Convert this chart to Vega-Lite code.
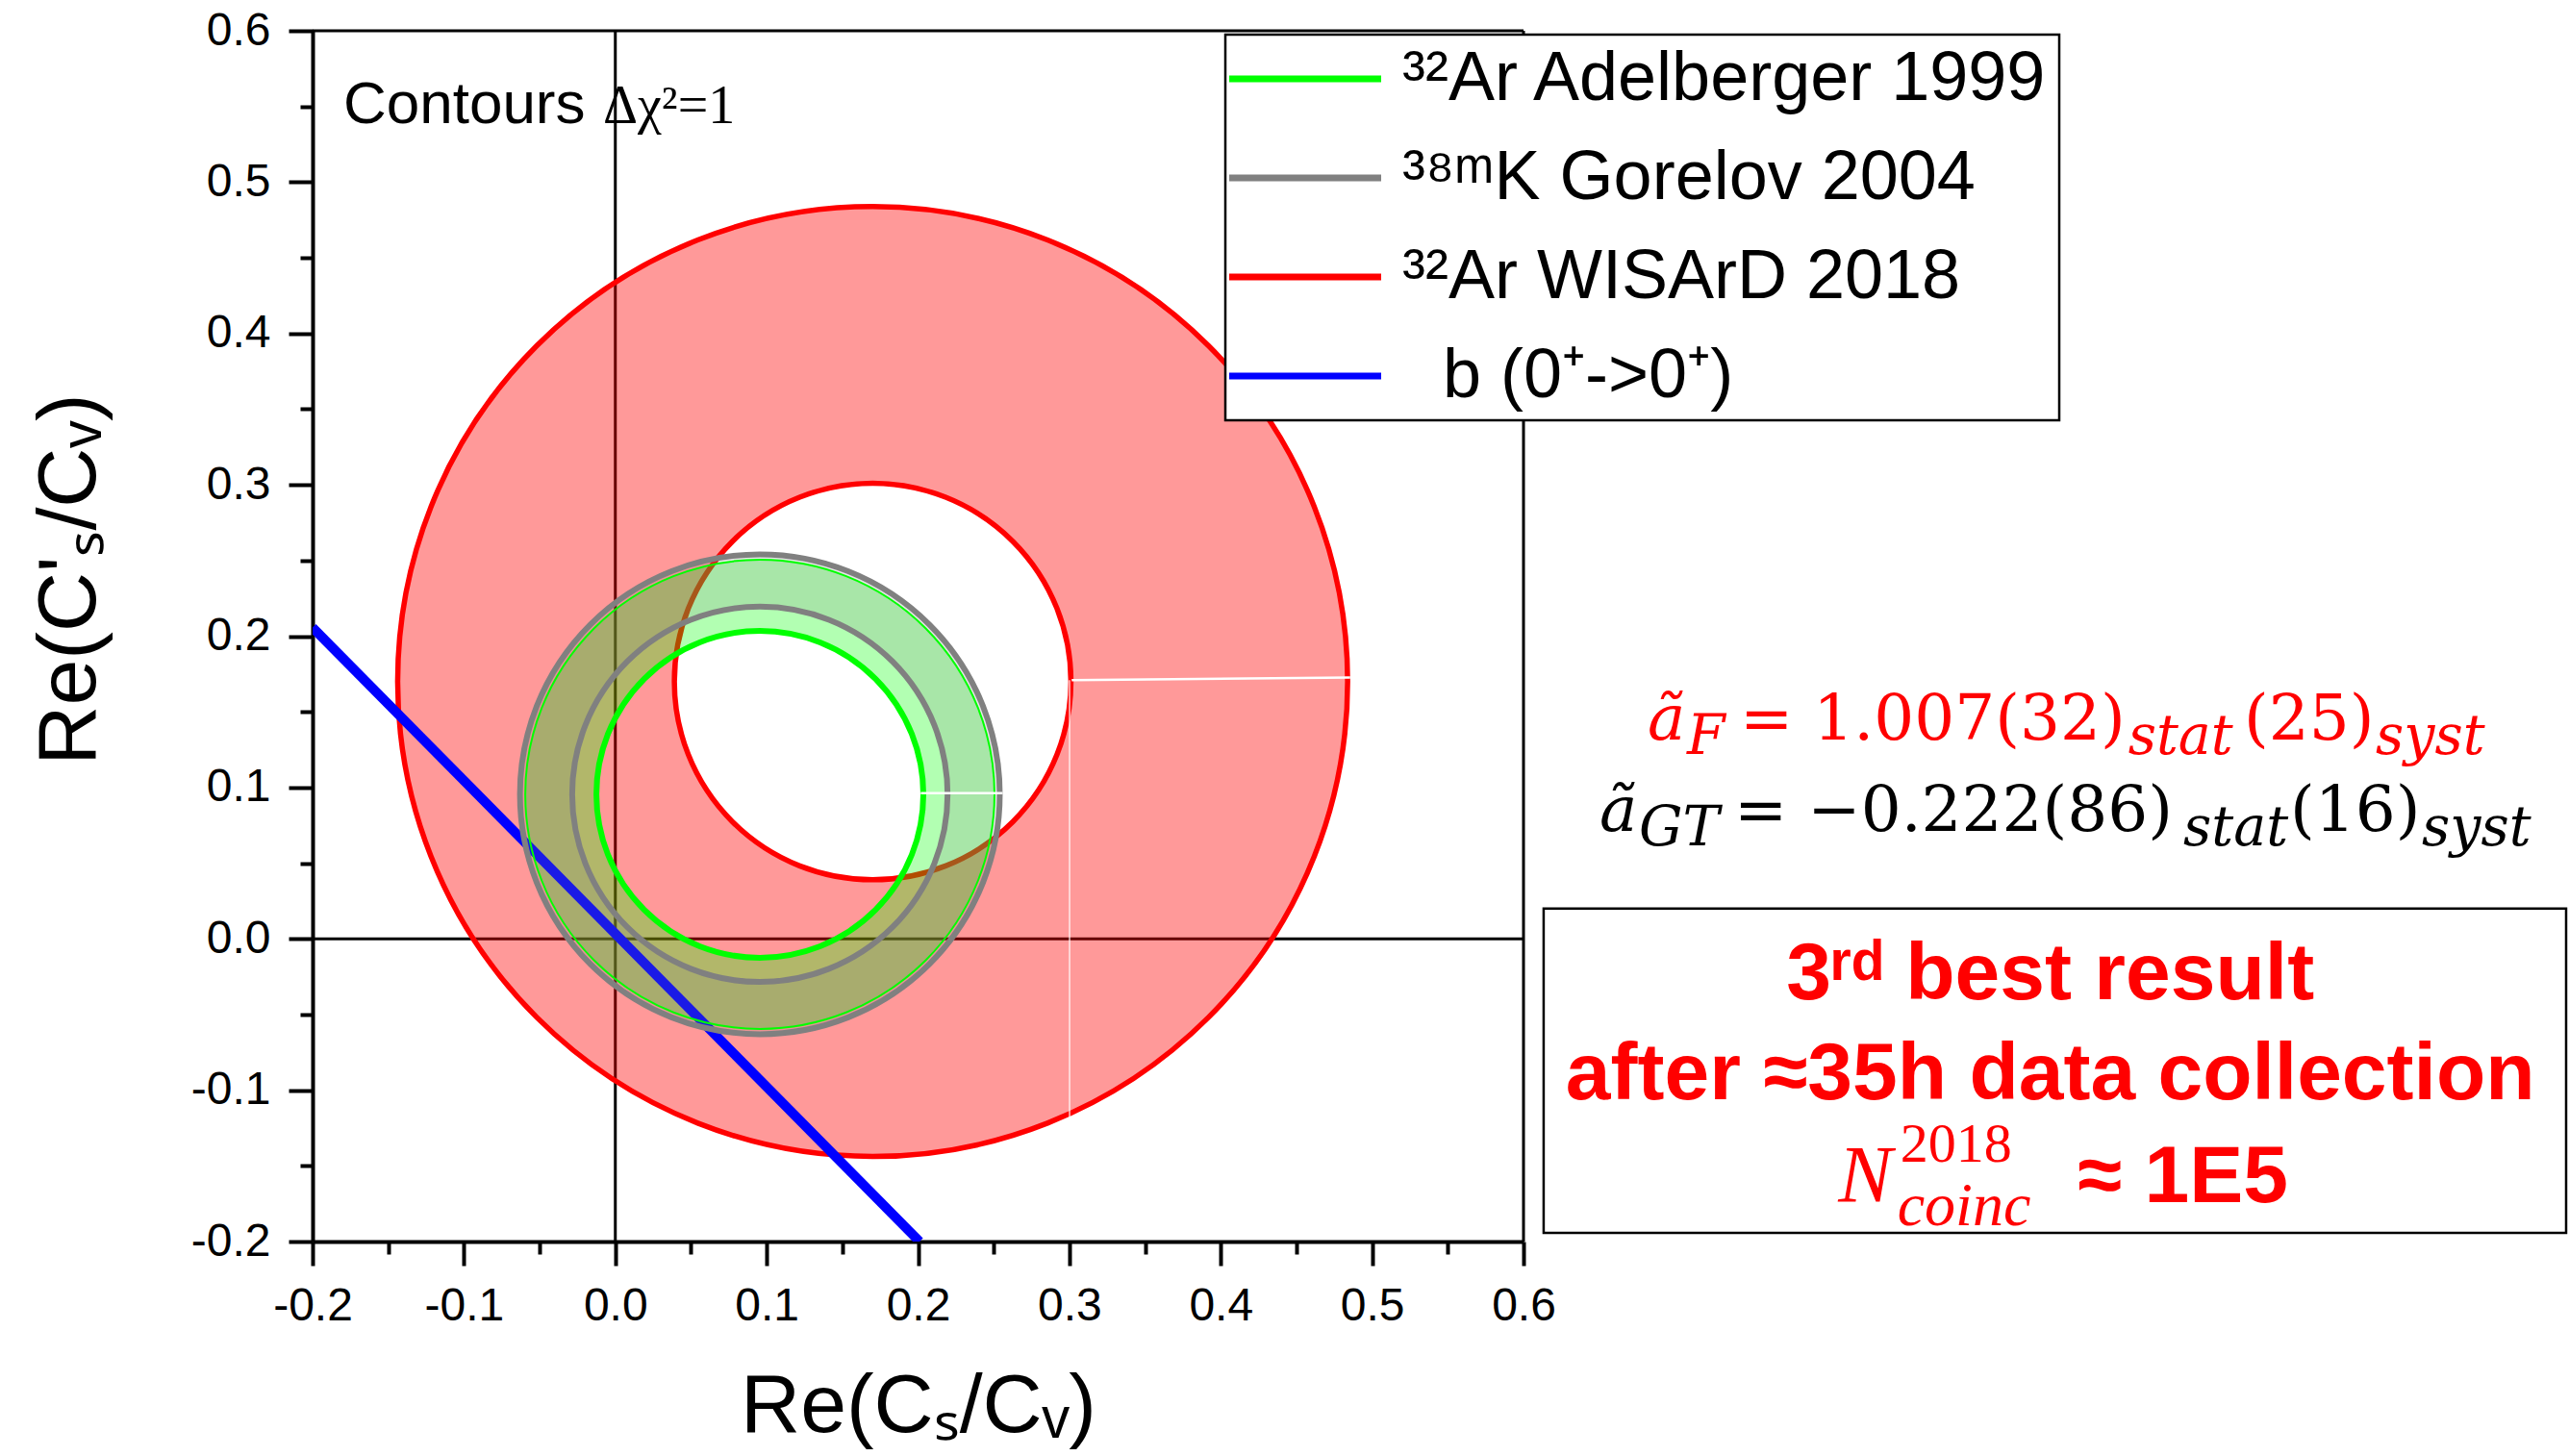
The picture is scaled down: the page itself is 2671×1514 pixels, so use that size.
{
  "$schema": "https://vega.github.io/schema/vega-lite/v6.json",
  "width": 1259,
  "height": 1259,
  "autosize": {"type": "none"},
  "padding": {"left": 325, "top": 32, "right": 1087, "bottom": 223},
  "background": "white",
  "config": {
    "view": {"stroke": null},
    "axis": {
      "domainColor": "black", "domainWidth": 4,
      "tickColor": "black", "tickWidth": 4,
      "labelFont": "Liberation Sans", "labelFontSize": 48, "labelColor": "black",
      "titleFont": "Liberation Sans", "titleFontSize": 86, "titleFontWeight": "normal", "titleColor": "black",
      "grid": false
    },
    "legend": {"strokeWidth": 2.5}
  },
  "encoding": {
    "x": {
      "field": "x", "type": "quantitative",
      "scale": {"domain": [-0.2, 0.6], "nice": false, "zero": false},
      "axis": {
        "title": "Re(Cₛ/Cᵥ)",
        "values": [-0.2, -0.15, -0.1, -0.05, 0, 0.05, 0.1, 0.15, 0.2, 0.25, 0.3, 0.35, 0.4, 0.45, 0.5, 0.55, 0.6],
        "labelExpr": "round(datum.value*20) % 2 == 0 ? (datum.value < -0.001 ? '-' : '') + format(abs(datum.value), '.1f') : ''",
        "tickSize": {"condition": {"test": "round(datum.value*20) % 2 == 0", "value": 25}, "value": 13},
        "labelPadding": 18, "titlePadding": 38, "labelFlush": false, "labelOverlap": false
      }
    },
    "y": {
      "field": "y", "type": "quantitative",
      "scale": {"domain": [-0.2, 0.6], "nice": false, "zero": false},
      "axis": {
        "title": "Re(C'ₛ/Cᵥ)",
        "values": [-0.2, -0.15, -0.1, -0.05, 0, 0.05, 0.1, 0.15, 0.2, 0.25, 0.3, 0.35, 0.4, 0.45, 0.5, 0.55, 0.6],
        "labelExpr": "round(datum.value*20) % 2 == 0 ? (datum.value < -0.001 ? '-' : '') + format(abs(datum.value), '.1f') : ''",
        "tickSize": {"condition": {"test": "round(datum.value*20) % 2 == 0", "value": 25}, "value": 13},
        "labelPadding": 19, "titlePadding": 82, "titleY": 570, "labelFlush": false, "labelOverlap": false
      }
    }
  },
  "layer": [
    {
      "data": {"values": [
        {"x": 0, "y": -0.2, "x2": 0, "y2": 0.6},
        {"x": -0.2, "y": 0, "x2": 0.6, "y2": 0},
        {"x": -0.2, "y": 0.6, "x2": 0.6, "y2": 0.6},
        {"x": 0.6, "y": -0.2, "x2": 0.6, "y2": 0.6}
      ]},
      "mark": {"type": "rule", "color": "black", "strokeWidth": 3},
      "encoding": {"x2": {"field": "x2"}, "y2": {"field": "y2"}}
    },
    {
      "data": {"values": [{"series": "³²Ar WISArD 2018", "x": 0.170, "y": 0.170, "r_out": 0.3138, "r_in": 0.131}]},
      "mark": {"type": "arc", "theta": 0, "theta2": 6.2832, "fill": "#FF0000", "fillOpacity": 0.4, "strokeWidth": 5.5},
      "encoding": {
        "radius": {"field": "r_out", "type": "quantitative", "scale": {"type": "linear", "domain": [0, 0.4], "range": [0, 629.5], "zero": true}},
        "radius2": {"field": "r_in"},
        "stroke": {
          "field": "series", "type": "nominal",
          "scale": {"domain": ["³²Ar Adelberger 1999", "³⁸ᵐK Gorelov 2004", "³²Ar WISArD 2018", "\u200b\u2002\u200ab (0⁺->0⁺)"], "range": ["#00FF00", "#808080", "#FF0000", "#0000FF"]},
          "legend": {
            "orient": "none", "legendX": 949, "legendY": 4, "title": null,
            "symbolType": "M-1.292,0H3.569", "symbolSize": 4225, "symbolStrokeWidth": 7,
            "labelFont": "Liberation Sans", "labelFontSize": 72, "labelColor": "black", "labelLimit": 2000,
            "labelOffset": 102, "rowPadding": 31, "padding": 10,
            "strokeColor": "black", "fillColor": "white",
            "encode": {
              "symbols": {"update": {"strokeWidth": {"value": 7}, "fillOpacity": {"value": 0}}}
            }
          }
        }
      }
    },
    {
      "data": {"values": [{"x": 0.0955, "y": 0.0955, "r_out": 0.155, "r_in": 0.108}]},
      "mark": {"type": "arc", "theta": 0, "theta2": 6.2832, "fill": "#00FF00", "fillOpacity": 0.3, "strokeWidth": 0},
      "encoding": {"radius": {"field": "r_out", "type": "quantitative"}, "radius2": {"field": "r_in"}}
    },
    {
      "data": {"values": [
        {"series": "\u200b\u2002\u200ab (0⁺->0⁺)", "x": -0.2, "y": 0.2057},
        {"series": "\u200b\u2002\u200ab (0⁺->0⁺)", "x": 0.201, "y": -0.2}
      ]},
      "mark": {"type": "line", "strokeWidth": 10, "clip": true},
      "encoding": {"stroke": {"field": "series", "type": "nominal"}}
    },
    {
      "data": {"values": [{"series": "³⁸ᵐK Gorelov 2004", "x": 0.0955, "y": 0.0955, "r_out": 0.1585, "r_in": 0.124}]},
      "mark": {"type": "arc", "theta": 0, "theta2": 6.2832, "fill": "#808080", "fillOpacity": 0.2, "strokeWidth": 6},
      "encoding": {"radius": {"field": "r_out", "type": "quantitative"}, "radius2": {"field": "r_in"}, "stroke": {"field": "series", "type": "nominal"}}
    },
    {
      "data": {"values": [{"x": 0.0955, "y": 0.0955, "r_out": 0.155}]},
      "mark": {"type": "arc", "theta": 0, "theta2": 6.2832, "filled": false, "stroke": "#00FF00", "strokeWidth": 2},
      "encoding": {"radius": {"field": "r_out", "type": "quantitative"}}
    },
    {
      "data": {"values": [{"series": "³²Ar Adelberger 1999", "x": 0.0955, "y": 0.0955, "r_out": 0.108}]},
      "mark": {"type": "arc", "theta": 0, "theta2": 6.2832, "filled": false, "strokeWidth": 6},
      "encoding": {"radius": {"field": "r_out", "type": "quantitative"}, "stroke": {"field": "series", "type": "nominal"}}
    },
    {
      "data": {"values": [
        {"x": 0.3015, "y": 0.171, "x2": 0.4855, "y2": 0.1727},
        {"x": 0.2018, "y": 0.0963, "x2": 0.2559, "y2": 0.0963}
      ]},
      "mark": {"type": "rule", "color": "white", "strokeWidth": 2.5},
      "encoding": {"x2": {"field": "x2"}, "y2": {"field": "y2"}}
    },
    {
      "data": {"values": [{"x": 0.3001, "y": 0.171, "x2": 0.3001, "y2": -0.145}]},
      "mark": {"type": "rule", "color": "white", "strokeWidth": 1.5, "opacity": 0.8},
      "encoding": {"x2": {"field": "x2"}, "y2": {"field": "y2"}}
    },
    {
      "data": {"values": [{"x": -0.1797, "y": 0.539, "t": "Contours"}]},
      "mark": {"type": "text", "font": "Liberation Sans", "fontSize": 62, "align": "left", "baseline": "alphabetic", "color": "black"},
      "encoding": {"text": {"field": "t"}}
    },
    {
      "data": {"values": [{"x": -0.0081, "y": 0.539, "t": "Δχ²=1"}]},
      "mark": {"type": "text", "font": "Liberation Serif", "fontSize": 56, "align": "left", "baseline": "alphabetic", "color": "black"},
      "encoding": {"text": {"field": "t"}}
    },
    {
      "data": {"values": [
        {"t": "ã", "x": 0.682, "y": 0.132, "g": "r"},
        {"t": "ã", "x": 0.6502, "y": 0.0715, "g": "k"}
      ]},
      "mark": {"type": "text", "font": "DejaVu Serif", "fontStyle": "italic", "fontSize": 66, "align": "left", "baseline": "alphabetic"},
      "encoding": {"text": {"field": "t"}, "color": {"field": "g", "type": "nominal", "scale": {"domain": ["r", "k"], "range": ["#FF0000", "#000000"]}, "legend": null}}
    },
    {
      "data": {"values": [
        {"t": "= 1.007(32)", "x": 0.7430, "y": 0.132, "g": "r"},
        {"t": "(25)", "x": 1.0759, "y": 0.132, "g": "r"},
        {"t": "= −0.222(86)", "x": 0.7392, "y": 0.0715, "g": "k"},
        {"t": "(16)", "x": 1.1064, "y": 0.0715, "g": "k"}
      ]},
      "mark": {"type": "text", "font": "DejaVu Serif", "fontSize": 66, "align": "left", "baseline": "alphabetic"},
      "encoding": {"text": {"field": "t"}, "color": {"field": "g", "type": "nominal", "legend": null}}
    },
    {
      "data": {"values": [
        {"t": "F", "x": 0.708, "y": 0.1224, "g": "r"},
        {"t": "stat", "x": 0.9995, "y": 0.1224, "g": "r"},
        {"t": "syst", "x": 1.163, "y": 0.1224, "g": "r"},
        {"t": "GT", "x": 0.6763, "y": 0.062, "g": "k"},
        {"t": "stat", "x": 1.0359, "y": 0.062, "g": "k"},
        {"t": "syst", "x": 1.1935, "y": 0.062, "g": "k"}
      ]},
      "mark": {"type": "text", "font": "DejaVu Serif", "fontStyle": "italic", "fontSize": 57, "align": "left", "baseline": "alphabetic"},
      "encoding": {"text": {"field": "t"}, "color": {"field": "g", "type": "nominal", "legend": null}}
    },
    {
      "data": {"values": [{"x": 0.6133, "x2": 1.2888, "y": 0.0200, "y2": -0.1943}]},
      "mark": {"type": "rect", "filled": false, "stroke": "black", "strokeWidth": 2.5},
      "encoding": {"x2": {"field": "x2"}, "y2": {"field": "y2"}}
    },
    {
      "data": {"values": [
        {"t": "3ʳᵈ best result", "x": 0.948, "y": -0.0398},
        {"t": "after ≈35h data collection", "x": 0.948, "y": -0.1059}
      ]},
      "mark": {"type": "text", "font": "Liberation Sans", "fontWeight": "bold", "fontSize": 84, "align": "center", "baseline": "alphabetic", "color": "#FF0000"},
      "encoding": {"text": {"field": "t"}}
    },
    {
      "data": {"values": [{"t": "N", "x": 0.808, "y": -0.174}]},
      "mark": {"type": "text", "font": "Liberation Serif", "fontStyle": "italic", "fontSize": 84, "align": "left", "baseline": "alphabetic", "color": "#FF0000"},
      "encoding": {"text": {"field": "t"}}
    },
    {
      "data": {"values": [{"t": "2018", "x": 0.849, "y": -0.1472}]},
      "mark": {"type": "text", "font": "Liberation Serif", "fontSize": 58, "align": "left", "baseline": "alphabetic", "color": "#FF0000"},
      "encoding": {"text": {"field": "t"}}
    },
    {
      "data": {"values": [{"t": "coinc", "x": 0.847, "y": -0.1892}]},
      "mark": {"type": "text", "font": "Liberation Serif", "fontStyle": "italic", "fontSize": 64, "align": "left", "baseline": "alphabetic", "color": "#FF0000"},
      "encoding": {"text": {"field": "t"}}
    },
    {
      "data": {"values": [{"t": "≈ 1E5", "x": 0.966, "y": -0.174}]},
      "mark": {"type": "text", "font": "Liberation Sans", "fontWeight": "bold", "fontSize": 84, "align": "left", "baseline": "alphabetic", "color": "#FF0000"},
      "encoding": {"text": {"field": "t"}}
    }
  ]
}
